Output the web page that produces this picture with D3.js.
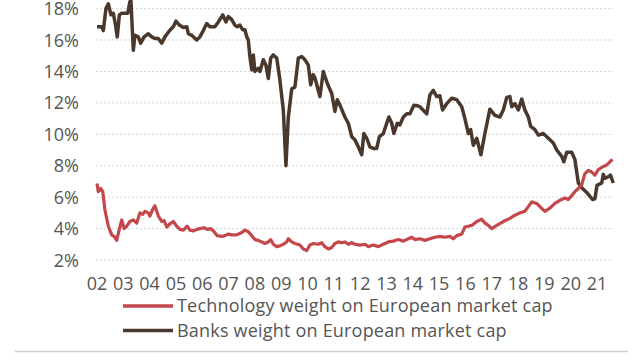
<!DOCTYPE html>
<html>
<head>
<meta charset="utf-8">
<script src="https://cdn.jsdelivr.net/npm/d3@7"></script>
<style>
html,body{margin:0;padding:0;background:#fff;}
svg{display:block;}
text{font-family:"Open Sans","Noto Sans",sans-serif;fill:#555;}
</style>
</head>
<body>
<svg id="chart" width="640" height="360"></svg>
<script>
// Decimal-year offsets from 2002 and values (%)
const bankTimes = [0.00,0.18,0.24,0.34,0.43,0.53,0.62,0.70,0.77,0.85,0.94,1.06,1.17,1.25,1.29,1.38,1.44,1.57,1.66,1.79,1.95,2.08,2.20,2.33,2.46,2.58,2.71,2.84,2.90,3.00,3.13,3.28,3.41,3.47,3.60,3.79,3.91,4.04,4.17,4.29,4.48,4.61,4.78,4.90,4.99,5.12,5.24,5.33,5.43,5.54,5.62,5.69,5.75,5.81,5.88,5.94,6.00,6.13,6.19,6.32,6.42,6.51,6.60,6.70,6.83,6.95,7.08,7.18,7.27,7.40,7.52,7.65,7.78,7.90,8.03,8.12,8.21,8.28,8.47,8.60,8.75,8.92,9.04,9.13,9.26,9.42,9.55,9.68,9.80,9.93,10.06,10.14,10.25,10.37,10.50,10.63,10.73,10.88,11.01,11.09,11.20,11.28,11.41,11.51,11.64,11.77,11.89,12.04,12.21,12.27,12.53,12.65,12.78,12.91,13.03,13.13,13.29,13.48,13.67,13.86,13.98,14.11,14.20,14.30,14.43,14.59,14.74,14.93,15.12,15.31,15.44,15.57,15.69,15.76,15.88,16.01,16.14,16.26,16.39,16.48,16.64,16.77,16.96,17.15,17.34,17.47,17.66,17.74,17.85,18.04,18.16,18.29,18.42,18.61,18.83,18.92,19.00,19.18,19.24,19.30,19.43,19.51,19.62];
const bankValues = [16.85,16.85,16.6,18.0,18.3,17.6,17.7,17.0,16.2,17.6,17.7,17.7,17.7,18.45,18.5,15.35,16.3,16.2,15.8,16.2,16.4,16.2,16.1,16.1,15.8,16.2,16.5,16.75,16.85,17.2,16.95,16.8,16.85,16.4,16.3,16.0,16.2,16.6,17.05,16.85,16.85,17.15,17.6,17.15,17.5,17.3,16.95,16.85,16.95,16.65,16.65,16.2,16.0,14.95,14.1,15.05,14.0,14.2,14.0,14.75,14.4,13.55,14.85,15.05,14.85,13.45,11.55,8.0,11.1,12.9,13.0,14.85,14.95,14.75,14.4,13.15,13.8,13.6,12.4,14.0,13.25,12.6,11.45,12.2,11.75,11.1,10.7,9.85,9.65,9.2,8.7,10.05,9.75,9.2,9.1,9.1,9.85,10.05,10.7,11.1,10.7,10.05,10.7,10.6,11.1,11.3,11.3,11.85,11.8,11.75,11.3,12.5,12.8,12.4,12.45,11.55,11.95,12.3,12.2,11.75,11.0,10.05,10.3,9.3,9.75,8.7,10.05,11.6,11.2,11.1,11.55,12.35,12.4,11.75,11.95,11.55,12.25,11.55,11.1,10.5,10.3,9.95,10.05,9.75,9.45,9.0,8.6,8.25,8.85,8.85,8.4,6.9,6.6,6.3,5.85,5.9,6.75,6.9,7.45,7.2,7.3,7.4,6.9];

const techTimes = [0.00,0.05,0.14,0.22,0.30,0.43,0.56,0.65,0.75,0.81,0.94,1.03,1.13,1.25,1.38,1.51,1.63,1.74,1.82,1.95,2.01,2.14,2.20,2.33,2.46,2.55,2.65,2.77,2.90,3.03,3.15,3.28,3.43,3.53,3.66,3.79,3.91,4.07,4.19,4.32,4.45,4.57,4.74,4.86,4.99,5.12,5.31,5.50,5.62,5.75,5.88,6.00,6.13,6.26,6.38,6.51,6.60,6.70,6.83,6.95,7.08,7.21,7.27,7.40,7.52,7.71,7.84,7.97,8.09,8.22,8.41,8.54,8.66,8.79,8.92,9.04,9.17,9.30,9.42,9.55,9.68,9.80,9.99,10.18,10.31,10.50,10.69,10.88,11.07,11.26,11.45,11.64,11.83,11.96,12.08,12.27,12.46,12.65,12.84,13.03,13.22,13.41,13.54,13.67,13.86,13.98,14.11,14.24,14.43,14.62,14.74,14.87,15.00,15.19,15.44,15.69,15.88,16.07,16.26,16.39,16.52,16.71,16.83,17.02,17.21,17.40,17.59,17.78,17.91,18.04,18.16,18.29,18.42,18.54,18.67,18.80,18.92,19.05,19.24,19.37,19.49,19.59];
const techValues = [6.87,6.35,6.55,6.35,5.2,4.15,3.6,3.5,3.25,3.7,4.55,4.0,4.15,4.45,4.55,4.35,5.0,4.9,5.1,5.0,4.8,5.3,5.45,4.8,4.45,4.5,4.1,4.3,4.45,4.15,3.95,3.9,4.15,3.9,3.85,3.95,4.0,4.05,3.95,4.0,3.8,3.55,3.5,3.55,3.65,3.6,3.6,3.75,3.9,3.8,3.55,3.3,3.25,3.15,3.05,3.15,3.3,3.0,2.85,2.9,3.0,3.15,3.35,3.15,3.05,2.95,2.7,2.6,2.95,3.05,3.0,3.1,2.85,2.7,2.8,3.05,3.15,3.1,3.15,3.0,3.1,3.0,2.95,3.0,2.85,2.95,2.85,3.0,3.15,3.2,3.3,3.2,3.35,3.45,3.3,3.35,3.25,3.35,3.45,3.5,3.45,3.5,3.35,3.55,3.65,4.1,4.15,4.2,4.45,4.6,4.35,4.2,4.0,4.2,4.45,4.65,4.85,5.0,5.1,5.4,5.7,5.6,5.4,5.1,5.3,5.6,5.8,5.95,5.85,6.1,6.35,6.55,6.8,7.5,7.7,7.6,7.4,7.75,7.95,8.05,8.25,8.4];

const startYear = 2002;
const yearLabels = ["02","03","04","05","06","07","08","09","10","11","12","13","14","15","16","17","18","19","20","21"];
const yTicks = [2,4,6,8,10,12,14,16,18];
const seriesNames = ["Technology weight on European market cap","Banks weight on European market cap"];
const seriesColors = ["#c4474b","#4a382c"];

const svg = d3.select("#chart");
const x = d3.scaleLinear().domain([0, 19]).range([97, 597]);
const y = d3.scaleLinear().domain([2, 18]).range([260, 8.6]);
const gridX0 = 96, gridX1 = 613;

// gridlines
svg.append("g").selectAll("line").data(yTicks).join("line")
  .attr("x1", gridX0).attr("x2", gridX1)
  .attr("y1", d => y(d)).attr("y2", d => y(d))
  .attr("stroke", "#d6d6d6").attr("stroke-width", 1)
  .attr("stroke-dasharray", "2,2");

// y labels
svg.append("g").selectAll("text").data(yTicks).join("text")
  .attr("x", 79).attr("y", d => y(d) + 6.5)
  .attr("text-anchor", "end").attr("font-size", 18)
  .text(d => d + "%");

// x labels
svg.append("g").selectAll("text").data(yearLabels).join("text")
  .attr("x", (d, i) => x(i)).attr("y", 290)
  .attr("text-anchor", "middle").attr("font-size", 18)
  .text(d => d);

const line = d3.line().x(d => x(d[0])).y(d => y(d[1]));
const bank = bankTimes.map((t, i) => [t, bankValues[i]]);
const tech = techTimes.map((t, i) => [t, techValues[i]]);

svg.append("path").datum(bank).attr("d", line)
  .attr("fill", "none").attr("stroke", seriesColors[1]).attr("stroke-width", 3.5)
  .attr("stroke-linejoin", "round");
svg.append("path").datum(tech).attr("d", line)
  .attr("fill", "none").attr("stroke", seriesColors[0]).attr("stroke-width", 3.2)
  .attr("stroke-linejoin", "round");

// legend
const lg = svg.append("g");
[0, 1].forEach(i => {
  const ly = 306 + i * 24.5;
  lg.append("line").attr("x1", 123).attr("x2", 173).attr("y1", ly).attr("y2", ly)
    .attr("stroke", seriesColors[i]).attr("stroke-width", 3.5);
  lg.append("text").attr("x", 177).attr("y", ly + 6).attr("font-size", 18)
    .attr("letter-spacing", 0.2)
    .text(seriesNames[i]);
});

// bottom rule
svg.append("line").attr("x1", 15).attr("x2", 628).attr("y1", 351.5).attr("y2", 351.5)
  .attr("stroke", "#cfcfcf").attr("stroke-width", 1.5);
</script>
</body>
</html>
